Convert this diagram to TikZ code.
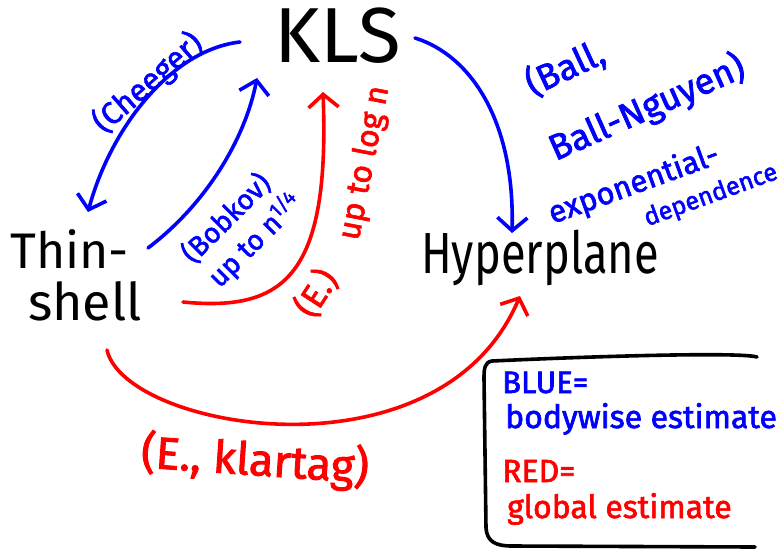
\documentclass[tikz,border=0pt]{standalone}
\usepackage{fontspec}
\setmainfont{Fira Sans}
\newfontfamily\handb{Fira Sans}[FakeBold=2]
\usepackage{graphicx}
\usetikzlibrary{arrows.meta}
\definecolor{hblue}{RGB}{0,0,255}
\definecolor{hred}{RGB}{255,0,0}
\newcommand\fs[1]{\fontsize{#1}{#1}\selectfont}
\newcommand\narrowtext[2]{\scalebox{#1}[1]{#2}}
\begin{document}
\begin{tikzpicture}[x=1pt,y=-1pt,
  pen/.style={line width=3.6pt, line cap=round, line join=round},
  barrow/.style={pen, hblue, -{Straight Barb[length=13pt,width=30pt]}},
  rarrow/.style={pen, hred, -{Straight Barb[length=13pt,width=30pt]}},
  lbl/.style={inner sep=0pt, anchor=center},
  bw/.style={inner sep=0pt, anchor=base west},
]
\fill[white] (0,0) rectangle (780,550);
\useasboundingbox (0,0) rectangle (780,550);

% main nodes
\node[inner sep=0pt, anchor=base, font=\fs{78}] (kls) at (338,62) {KLS};
\node[bw, font=\fs{50}] (thin) at (10,268) {Thin-};
\node[bw, font=\fs{52}] (shell) at (28,320) {shell};
\node[inner sep=0pt, anchor=base, font=\fs{58}] (hyp) at (540,273) {\narrowtext{0.78}{Hyperplane}};

% labels
\node[lbl, text=hblue, rotate=41, font=\handb\fs{31}] (cheeger) at (148,83) {(Cheeger)};
\node[lbl, text=hblue, rotate=45, font=\handb\fs{28}] (bobkov) at (226,218) {(Bobkov)};
\node[lbl, text=hblue, rotate=45, font=\handb\fs{28}] (bobkovup) at (255,240) {up to n\textsuperscript{1/4}};
\node[lbl, text=hred, rotate=79, font=\handb\fs{32}] (logn) at (365,163) {up to log n};
\node[lbl, text=hred, rotate=57, font=\handb\fs{34}] (eone) at (316,293) {(E.)};
\node[lbl, text=hblue, rotate=25, font=\handb\fs{36}] (ball) at (565,68) {(Ball,};
\node[lbl, text=hblue, rotate=24, font=\handb\fs{36}] (bn) at (647,108) {Ball-Nguyen)};
\node[lbl, text=hblue, rotate=20, font=\handb\fs{31}] (expo) at (634,185) {exponential-};
\node[lbl, text=hblue, rotate=20, font=\handb\fs{25}] (dep) at (711,196) {dependence};
\node[lbl, text=hred, rotate=-4, font=\handb\fs{45}] (ek) at (255,461) {(E., klartag)};

% legend
\node[bw, text=hblue, font=\handb\fs{31}] (lblue) at (502,393) {BLUE=};
\node[bw, text=hblue, font=\handb\fs{32}] (lbw) at (505,428) {bodywise estimate};
\node[bw, text=hred, font=\handb\fs{32}] (lred) at (502,482) {RED=};
\node[bw, text=hred, font=\handb\fs{32}] (lgl) at (507,518) {global estimate};
\draw[pen, black] (757,357) .. controls (740,352) and (600,356) .. (492,361)
  .. controls (485,362) and (484,368) .. (484,378) -- (486,528)
  .. controls (487,542) and (496,546) .. (512,546) -- (755,547);

% connector ends
\coordinate (cheS) at (240,42);
\coordinate (cheE) at (88,212);
\coordinate (bobS) at (148,248);
\coordinate (bobE) at (257,78);
\coordinate (eS) at (183,302);
\coordinate (eE) at (323,92);
\coordinate (balS) at (415,38);
\coordinate (balE) at (512,233);
\coordinate (ekS) at (107,350);
\coordinate (ekE) at (520,296);

\draw[barrow] (cheS) .. controls (170,50) and (110,130) .. (cheE);
\draw[barrow] (bobS) .. controls (205,205) and (245,140) .. (bobE);
\draw[rarrow] (eS) .. controls (285,312) and (330,275) .. (eE);
\draw[barrow] (balS) .. controls (470,55) and (515,120) .. (balE);
\draw[rarrow] (ekS) .. controls (125,430) and (440,485) .. (ekE);
\end{tikzpicture}
\end{document}
